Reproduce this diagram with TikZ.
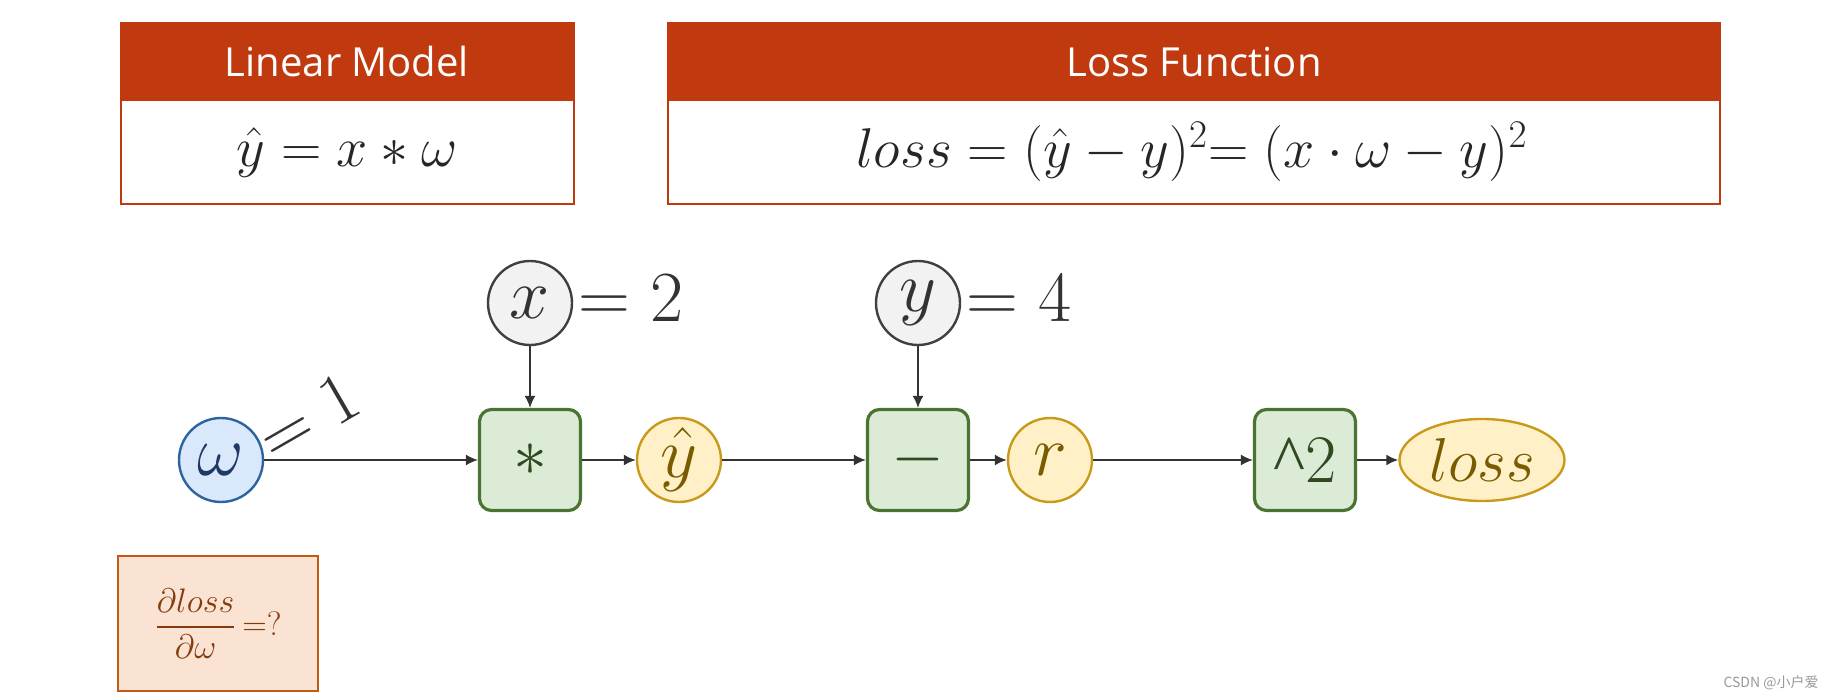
\RequirePackage{fix-cm}
\documentclass[tikz,border=0pt]{standalone}
\usepackage{amsmath}
\usepackage{fontspec}
\newfontfamily\headfont{Open Sans}
\newfontfamily\caretfont{Liberation Serif}
\newfontfamily\cjk{Noto Sans CJK SC}
\usetikzlibrary{arrows.meta,shapes.geometric}

\newcommand{\setsz}[1]{\fontsize{#1}{#1}\selectfont}

\definecolor{headred}{HTML}{C0390F}
\definecolor{wfill}{HTML}{DAE8FC}
\definecolor{wdraw}{HTML}{2C64A0}
\definecolor{wtext}{HTML}{1F3864}
\definecolor{varfill}{HTML}{F2F2F2}
\definecolor{vardraw}{HTML}{404040}
\definecolor{vartext}{HTML}{333333}
\definecolor{opfill}{HTML}{DCEBD6}
\definecolor{opdraw}{HTML}{4B7332}
\definecolor{optext}{HTML}{2E4A1E}
\definecolor{yfill}{HTML}{FFF0C8}
\definecolor{ydraw}{HTML}{C99A1A}
\definecolor{ytext}{HTML}{7A5C00}
\definecolor{arrowgray}{HTML}{333333}
\definecolor{askfill}{HTML}{FBE3D3}
\definecolor{askdraw}{HTML}{C05A14}
\definecolor{asktext}{HTML}{843C0C}

\tikzset{
  var/.style={circle, draw=vardraw, fill=varfill, line width=1.2pt, minimum size=42pt,
    inner sep=0pt, text=vartext, font=\setsz{36}},
  wvar/.style={var, draw=wdraw, fill=wfill, text=wtext},
  inter/.style={var, draw=ydraw, fill=yfill, text=ytext},
  opbox/.style={rectangle, rounded corners=6pt, draw=opdraw, fill=opfill, line width=1.6pt,
    minimum size=50.5pt, inner sep=0pt, text=optext, font=\setsz{34}},
  conn/.style={-{Latex[length=6pt,width=5.5pt]}, line width=0.9pt, draw=arrowgray},
  title/.style={text=white, font=\headfont\setsz{20}},
  formula/.style={text=black!85, font=\setsz{28}},
  vallabel/.style={text=vartext, font=\setsz{36}, inner sep=0pt},
}

\begin{document}
\begin{tikzpicture}[x=0.5pt, y=-0.5pt]
  \useasboundingbox (0,0) rectangle (1837,699);

  % model and loss panels
  \fill[headred] (120.7,23.4) rectangle (574,100.7);
  \draw[headred, line width=1pt] (120.7,23.4) rectangle (574,203.9);
  \fill[headred] (668,23.4) rectangle (1720,100.7);
  \draw[headred, line width=1pt] (668,23.4) rectangle (1720,203.9);
  \node[title] (lmtitle) at (347,62) {Linear Model};
  \node[formula] (lmform) at (347,153) {$\hat{y} = x * \omega$};
  \node[title] (lftitle) at (1194,62) {Loss Function};
  \node[formula] (lfform) at (1192,152) {$loss = (\hat{y} - y)^2\mkern-5mu= (x \cdot \omega - y)^2$};

  % computational graph
  \node[wvar] (w) at (221,460) {$\omega$};
  \node[var] (x) at (530,303) {$x$};
  \node[opbox] (mul) at (530,460) {$*$};
  \node[inter] (yhat) at (679,460) {$\hat{y}$};
  \node[var] (y) at (918,303) {$y$};
  \node[opbox] (minus) at (918,460) {$-$};
  \node[inter] (r) at (1050,460) {$r$};
  \node[opbox] (sq) at (1305,460) {{\caretfont\symbol{"5E}}2};
  \node[ellipse, draw=ydraw, fill=yfill, line width=1.2pt, minimum width=82.5pt,
    minimum height=41pt, inner sep=0pt, text=ytext, font=\setsz{31}] (loss) at (1482,460) {$loss$};

  \node[vallabel, anchor=base west] (xval) at (578,322) {$=2$};
  \node[vallabel, anchor=base west] (yval) at (966,322) {$=4$};
  \node[vallabel, anchor=base west, rotate=30] (wval) at (274,464) {$=1$};

  \draw[conn] (w) -- (mul);
  \draw[conn] (x) -- (mul);
  \draw[conn] (mul) -- (yhat);
  \draw[conn] (yhat) -- (minus);
  \draw[conn] (y) -- (minus);
  \draw[conn] (minus) -- (r);
  \draw[conn] (r) -- (sq);
  \draw[conn] (sq) -- (loss);

  % question box
  \node[draw=askdraw, fill=askfill, line width=1pt, minimum width=99.75pt,
    minimum height=67.5pt, text=asktext, font=\setsz{17}] (ask) at (218,624)
    {$\dfrac{\partial loss}{\partial \omega}\,{=}?$};

  \node[font=\cjk\setsz{7}, text=black!40] (wm) at (1771,683) {CSDN @小户爱};
\end{tikzpicture}
\end{document}
